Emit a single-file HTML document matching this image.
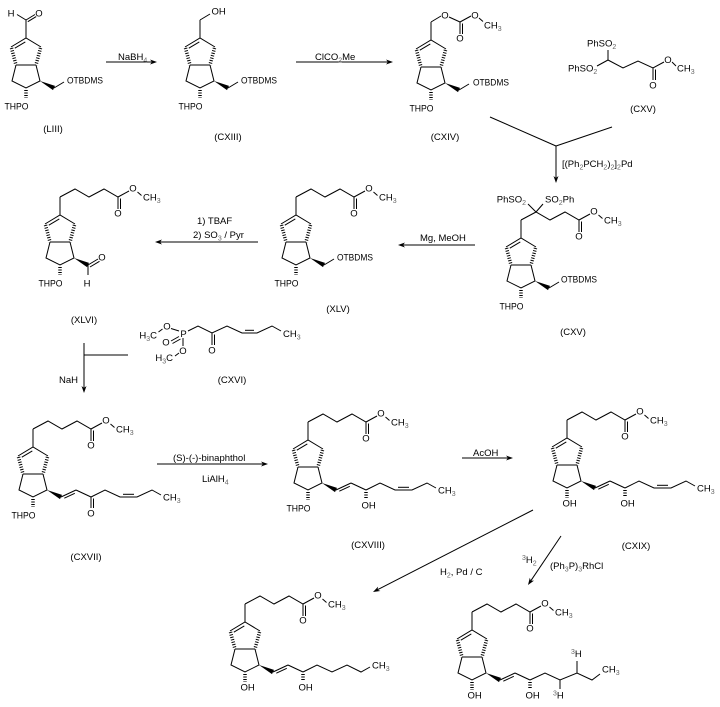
<!DOCTYPE html>
<html><head><meta charset="utf-8"><style>
html,body{margin:0;padding:0;background:#fff;}
svg{display:block;}
line,polyline{stroke:#000;stroke-width:1;fill:none;}
polygon{fill:#000;stroke:none;}
.h{stroke-width:3.5;stroke-dasharray:1 1.5;}
text{font-family:"Liberation Sans",Arial,sans-serif;font-size:9.5px;fill:#000;}
.m{text-anchor:middle;}
.e{text-anchor:end;}
.s{font-size:7px;fill:#666;}
</style></head><body>
<svg width="720" height="707" viewBox="0 0 720 707" xmlns="http://www.w3.org/2000/svg">
<rect width="720" height="707" fill="#fff"/>
<defs>
<g id="r">
<line x1="0" y1="0" x2="0" y2="-18"/>
<polyline points="-15,9 0,0 15,9"/>
<line x1="-0.7" y1="3.9" x2="-11.2" y2="10.2"/>
<line class="h" x1="-14.5" y1="10" x2="-10" y2="27"/>
<line class="h" x1="14.5" y1="10" x2="10" y2="27"/>
<line x1="-10" y1="27" x2="10" y2="27"/>
<polyline points="-10,27 -14,43 0,50 14,43 10,27"/>
<polygon points="14,43 27,52.1 29,47.9"/>
<line class="h" x1="0" y1="52" x2="0" y2="60"/>
</g>
<g id="ec">
<polyline points="0,-18 15,-26 29,-18 44,-26 58,-18 69,-24"/>
<line x1="58" y1="-18" x2="58" y2="-6"/>
<line x1="60.5" y1="-16.5" x2="60.5" y2="-6"/>
<line x1="77.5" y1="-23" x2="81.5" y2="-19.5"/>
</g>
<g id="le">
<line x1="28" y1="50" x2="43" y2="43"/>
<line x1="31.3" y1="51.2" x2="41.8" y2="46.3"/>
<line x1="43" y1="43" x2="58" y2="50"/>
</g>
<g id="lt">
<polyline points="58,50 72,43 87,50 104,50 119,43 128,48"/>
<line x1="90" y1="47.3" x2="101" y2="47.3"/>
</g>
<g id="otb">
<line x1="28" y1="50" x2="38" y2="44"/>
</g>
</defs>

<!-- LIII -->
<g transform="translate(26,38)">
<use href="#r"/>
<line x1="0" y1="-18" x2="-9" y2="-23.5"/>
<text class="m" x="-15" y="-21.5">H</text>
<line x1="0" y1="-18" x2="9" y2="-23.5"/>
<line x1="1.8" y1="-16.3" x2="10.2" y2="-21.4"/>
<text class="m" x="13" y="-21.5">O</text>
<use href="#otb"/>
<text x="41" y="45.5" textLength="36" lengthAdjust="spacingAndGlyphs">OTBDMS</text>
<text class="e" x="2.5" y="71.5" textLength="24" lengthAdjust="spacingAndGlyphs">THPO</text>
</g>
<text class="m" x="53" y="132">(LIII)</text>

<!-- arrow NaBH4 -->
<line x1="106" y1="62" x2="152" y2="62"/>
<polygon points="157,62 150,59.5 152,62 150,64.5"/>
<text x="118" y="60">NaBH<tspan class="s" dy="2.5">4</tspan></text>

<!-- CXIII -->
<g transform="translate(200,38)">
<use href="#r"/>
<line x1="0" y1="-18" x2="10" y2="-24"/>
<text x="11.5" y="-23.5">OH</text>
<use href="#otb"/>
<text x="41" y="45.5" textLength="36" lengthAdjust="spacingAndGlyphs">OTBDMS</text>
<text class="e" x="2.5" y="71.5" textLength="24" lengthAdjust="spacingAndGlyphs">THPO</text>
</g>
<text class="m" x="228" y="140">(CXIII)</text>

<!-- arrow ClCO2Me -->
<line x1="296" y1="62" x2="388" y2="62"/>
<polygon points="393,62 386,59.5 388,62 386,64.5"/>
<text x="315" y="60">ClCO<tspan class="s" dy="2.5">2</tspan><tspan dy="-2.5">Me</tspan></text>

<!-- CXIV -->
<g transform="translate(431,40)">
<use href="#r"/>
<line x1="0" y1="-18" x2="10" y2="-24"/>
<text class="m" x="14" y="-21.5">O</text>
<line x1="18" y1="-23" x2="29" y2="-18"/>
<line x1="29" y1="-18" x2="29" y2="-6"/>
<line x1="31.5" y1="-16.5" x2="31.5" y2="-6"/>
<text class="m" x="29" y="1.5">O</text>
<line x1="29" y1="-18" x2="40" y2="-24"/>
<text class="m" x="44" y="-21.5">O</text>
<line x1="48" y1="-22" x2="52" y2="-18.5"/>
<text x="53" y="-11.5">CH<tspan class="s" dy="2.5">3</tspan></text>
<use href="#otb"/>
<text x="42" y="45.5" textLength="36" lengthAdjust="spacingAndGlyphs">OTBDMS</text>
<text class="e" x="2.5" y="71.5" textLength="24" lengthAdjust="spacingAndGlyphs">THPO</text>
</g>
<text class="m" x="445" y="140">(CXIV)</text>

<!-- CXV reagent -->
<line x1="608" y1="60" x2="608" y2="50"/>
<text x="587" y="46.5">PhSO<tspan class="s" dy="2.5">2</tspan></text>
<line x1="608" y1="60" x2="597" y2="66"/>
<text x="568" y="71.5">PhSO<tspan class="s" dy="2.5">2</tspan></text>
<polyline points="608,60 623,68 638,61 653,68 664,62"/>
<line x1="653" y1="68" x2="653" y2="80"/>
<line x1="655.5" y1="69.5" x2="655.5" y2="80"/>
<text class="m" x="653" y="88.5">O</text>
<text class="m" x="668" y="63">O</text>
<line x1="672" y1="62" x2="676" y2="66"/>
<text x="677" y="71.5">CH<tspan class="s" dy="2.5">3</tspan></text>
<text class="m" x="643" y="112">(CXV)</text>

<!-- converging arrow -->
<line x1="490" y1="117" x2="556" y2="146"/>
<line x1="612" y1="127" x2="556" y2="146"/>
<line x1="556" y1="146" x2="556" y2="178"/>
<polygon points="556,183 553.5,176 556,178 558.5,176"/>
<text x="562" y="167">[(Ph<tspan class="s" dy="2.5">2</tspan><tspan dy="-2.5">PCH</tspan><tspan class="s" dy="2.5">2</tspan><tspan dy="-2.5">)</tspan><tspan class="s" dy="2.5">2</tspan><tspan dy="-2.5">]</tspan><tspan class="s" dy="2.5">2</tspan><tspan dy="-2.5">Pd</tspan></text>

<!-- CXV product -->
<g transform="translate(521,238)">
<use href="#r"/>
<use href="#ec"/>
<line x1="15" y1="-26" x2="7" y2="-34"/>
<text class="e" x="5" y="-35.5">PhSO<tspan class="s" dy="2.5">2</tspan></text>
<line x1="15" y1="-26" x2="22" y2="-34"/>
<text x="24" y="-35.5">SO<tspan class="s" dy="2.5">2</tspan><tspan dy="-2.5">Ph</tspan></text>
<text class="m" x="58" y="1.5">O</text>
<text class="m" x="73" y="-23.5">O</text>
<text x="83" y="-14.5">CH<tspan class="s" dy="2.5">3</tspan></text>
<use href="#otb"/>
<text x="40" y="44.5" textLength="36" lengthAdjust="spacingAndGlyphs">OTBDMS</text>
<text class="e" x="2.5" y="71.5" textLength="24" lengthAdjust="spacingAndGlyphs">THPO</text>
</g>
<text class="m" x="573" y="335">(CXV)</text>

<!-- arrow Mg, MeOH -->
<line x1="403" y1="245" x2="475" y2="245"/>
<polygon points="398,245 405,242.5 403,245 405,247.5"/>
<text x="420" y="241">Mg, MeOH</text>

<!-- XLV -->
<g transform="translate(296,215)">
<use href="#r"/>
<use href="#ec"/>
<text class="m" x="58" y="1.5">O</text>
<text class="m" x="73" y="-23.5">O</text>
<text x="83" y="-14.5">CH<tspan class="s" dy="2.5">3</tspan></text>
<use href="#otb"/>
<text x="41" y="45.5" textLength="36" lengthAdjust="spacingAndGlyphs">OTBDMS</text>
<text class="e" x="2.5" y="71.5" textLength="24" lengthAdjust="spacingAndGlyphs">THPO</text>
</g>
<text class="m" x="338" y="312">(XLV)</text>

<!-- arrow TBAF -->
<line x1="160" y1="242" x2="258" y2="242"/>
<polygon points="155,242 162,239.5 160,242 162,244.5"/>
<text x="197" y="224">1) TBAF</text>
<text x="193" y="238">2) SO<tspan class="s" dy="2.5">3</tspan><tspan dy="-2.5"> / Pyr</tspan></text>

<!-- XLVI -->
<g transform="translate(60,215)">
<use href="#r"/>
<use href="#ec"/>
<text class="m" x="58" y="1.5">O</text>
<text class="m" x="73" y="-23.5">O</text>
<text x="83" y="-14.5">CH<tspan class="s" dy="2.5">3</tspan></text>
<line x1="28" y1="50" x2="38" y2="44"/>
<line x1="30" y1="52" x2="39.5" y2="46.3"/>
<text class="m" x="42" y="45.5">O</text>
<line x1="28" y1="50" x2="28" y2="60"/>
<text class="m" x="27" y="71.5">H</text>
<text class="e" x="2.5" y="71.5" textLength="24" lengthAdjust="spacingAndGlyphs">THPO</text>
</g>
<text class="m" x="84" y="323">(XLVI)</text>

<!-- CXVI -->
<text class="e" x="157" y="338.5">H<tspan class="s" dy="2.5">3</tspan><tspan dy="-2.5">C</tspan></text>
<line x1="158.5" y1="332" x2="162.5" y2="329"/>
<text class="m" x="167" y="329.5">O</text>
<line x1="171" y1="328.5" x2="179" y2="331"/>
<text class="m" x="183.5" y="337">P</text>
<line x1="171" y1="341" x2="179" y2="336.5"/>
<line x1="172.5" y1="343.5" x2="180.5" y2="339"/>
<text class="m" x="166" y="345.5">O</text>
<line x1="183" y1="338" x2="183" y2="346"/>
<text class="m" x="183" y="354">O</text>
<line x1="179" y1="353" x2="175" y2="356"/>
<text class="e" x="173" y="361">H<tspan class="s" dy="2.5">3</tspan><tspan dy="-2.5">C</tspan></text>
<polyline points="188,331 198,326 212,333 227,326 242,333 257,333 272,326 281,331"/>
<line x1="212" y1="333" x2="212" y2="345"/>
<line x1="214.5" y1="334.5" x2="214.5" y2="345"/>
<text class="m" x="212" y="353.5">O</text>
<line x1="245" y1="330.3" x2="254" y2="330.3"/>
<text x="283" y="337">CH<tspan class="s" dy="2.5">3</tspan></text>
<text class="m" x="232" y="383">(CXVI)</text>

<!-- NaH arrow -->
<line x1="84" y1="343" x2="84" y2="388"/>
<polygon points="84,393 81.5,386 84,388 86.5,386"/>
<line x1="84" y1="355" x2="128" y2="355"/>
<text x="59" y="383">NaH</text>

<!-- CXVII -->
<g transform="translate(33,447)">
<use href="#r"/>
<use href="#ec"/>
<text class="m" x="58" y="1.5">O</text>
<text class="m" x="73" y="-23.5">O</text>
<text x="83" y="-14.5">CH<tspan class="s" dy="2.5">3</tspan></text>
<use href="#le"/>
<use href="#lt"/>
<line x1="58" y1="50" x2="58" y2="61"/>
<line x1="60.5" y1="51.5" x2="60.5" y2="61"/>
<text class="m" x="58" y="69.5">O</text>
<text x="130" y="53.5">CH<tspan class="s" dy="2.5">3</tspan></text>
<text class="e" x="2.5" y="71.5" textLength="24" lengthAdjust="spacingAndGlyphs">THPO</text>
</g>
<text class="m" x="86" y="560">(CXVII)</text>

<!-- arrow binaphthol -->
<line x1="157" y1="464" x2="263" y2="464"/>
<polygon points="268,464 261,461.5 263,464 261,466.5"/>
<text x="173" y="461">(S)-(-)-binaphthol</text>
<text x="202" y="482">LiAlH<tspan class="s" dy="2.5">4</tspan></text>

<!-- CXVIII -->
<g transform="translate(308,440)">
<use href="#r"/>
<use href="#ec"/>
<text class="m" x="58" y="1.5">O</text>
<text class="m" x="73" y="-23.5">O</text>
<text x="83" y="-14.5">CH<tspan class="s" dy="2.5">3</tspan></text>
<use href="#le"/>
<use href="#lt"/>
<line class="h" x1="58" y1="52" x2="58" y2="59"/>
<text x="53.5" y="68.5">OH</text>
<text x="130" y="53.5">CH<tspan class="s" dy="2.5">3</tspan></text>
<text class="e" x="2.5" y="71.5" textLength="24" lengthAdjust="spacingAndGlyphs">THPO</text>
</g>
<text class="m" x="368" y="548">(CXVIII)</text>

<!-- arrow AcOH -->
<line x1="462" y1="458" x2="508" y2="458"/>
<polygon points="513,458 506,455.5 508,458 506,460.5"/>
<text x="473" y="456">AcOH</text>

<!-- CXIX -->
<g transform="translate(567,438)">
<use href="#r"/>
<use href="#ec"/>
<text class="m" x="58" y="1.5">O</text>
<text class="m" x="73" y="-23.5">O</text>
<text x="83" y="-14.5">CH<tspan class="s" dy="2.5">3</tspan></text>
<use href="#le"/>
<use href="#lt"/>
<line class="h" x1="58" y1="52" x2="58" y2="59"/>
<text x="53.5" y="68.5">OH</text>
<text x="130" y="53.5">CH<tspan class="s" dy="2.5">3</tspan></text>
<text x="-4.5" y="68.5">OH</text>
</g>
<text class="m" x="636" y="549">(CXIX)</text>

<!-- arrow H2 Pd/C -->
<line x1="533" y1="510" x2="377.5" y2="589.7"/>
<polygon points="373,592 380.4,591 377.5,589.7 378.1,586.6"/>
<text x="440" y="575">H<tspan class="s" dy="2.5">2</tspan><tspan dy="-2.5">, Pd / C</tspan></text>

<!-- arrow 3H2 -->
<line x1="561" y1="536" x2="530.8" y2="580.8"/>
<polygon points="528,585 534,580.6 530.8,580.8 529.8,577.8"/>
<text x="522" y="563"><tspan class="s" dy="-3">3</tspan><tspan dy="3">H</tspan><tspan class="s" dy="2.5">2</tspan></text>
<text x="550" y="569">(Ph<tspan class="s" dy="2.5">3</tspan><tspan dy="-2.5">P)</tspan><tspan class="s" dy="2.5">3</tspan><tspan dy="-2.5">RhCl</tspan></text>

<!-- bottom-left product -->
<g transform="translate(245,622)">
<use href="#r"/>
<use href="#ec"/>
<text class="m" x="58" y="1.5">O</text>
<text class="m" x="73" y="-23.5">O</text>
<text x="83" y="-14.5">CH<tspan class="s" dy="2.5">3</tspan></text>
<use href="#le"/>
<polyline points="58,50 72,43 87,50 102,43 116,50 125,45"/>
<line class="h" x1="58" y1="52" x2="58" y2="59"/>
<text x="53.5" y="68.5">OH</text>
<text x="127" y="46.5">CH<tspan class="s" dy="2.5">3</tspan></text>
<text x="-4.5" y="68.5">OH</text>
</g>

<!-- bottom-right product -->
<g transform="translate(472,630)">
<use href="#r"/>
<use href="#ec"/>
<text class="m" x="58" y="1.5">O</text>
<text class="m" x="73" y="-23.5">O</text>
<text x="83" y="-14.5">CH<tspan class="s" dy="2.5">3</tspan></text>
<use href="#le"/>
<polyline points="58,50 73,43 88,50 105,43 120,50 128,44"/>
<line class="h" x1="58" y1="52" x2="58" y2="59"/>
<text x="53.5" y="68.5">OH</text>
<line x1="88" y1="50" x2="88" y2="59"/>
<text x="81" y="68.5"><tspan class="s" dy="-3">3</tspan><tspan dy="3">H</tspan></text>
<line x1="105" y1="43" x2="105" y2="31"/>
<text x="99" y="27"><tspan class="s" dy="-3">3</tspan><tspan dy="3">H</tspan></text>
<text x="130" y="42.5">CH<tspan class="s" dy="2.5">3</tspan></text>
<text x="-4.5" y="68.5">OH</text>
</g>

</svg>
</body></html>
